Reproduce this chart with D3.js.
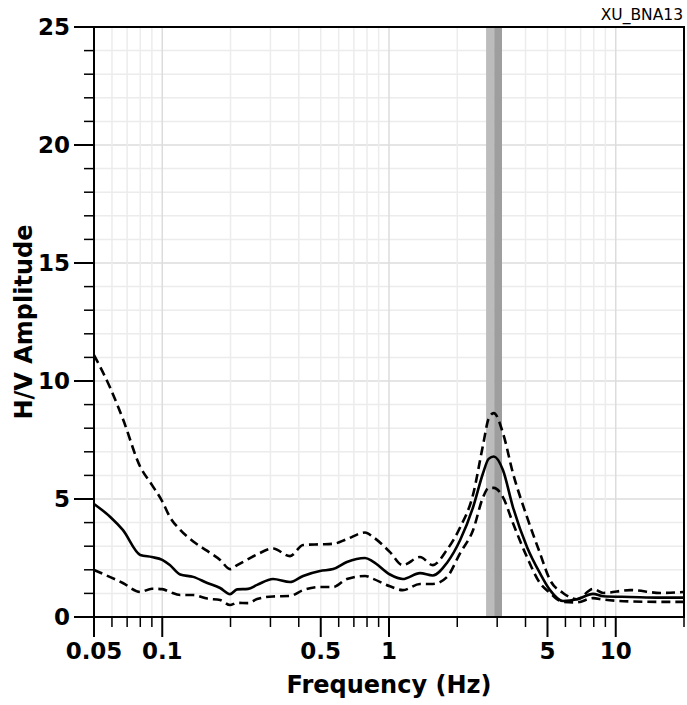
<!DOCTYPE html>
<html>
<head>
<meta charset="utf-8">
<script src="https://cdn.jsdelivr.net/npm/d3@7"></script>
<style>
    body { margin: 0; background: #fff; }
    text { font-family: "DejaVu Sans", sans-serif; }
</style>
</head>
<body>
<div id="chart"></div>
<script>
const stationName = "XU_BNA13";

// frequencies (Hz) shared by the three curves
const freqs = [0.05, 0.059, 0.067, 0.08, 0.09, 0.1, 0.108, 0.12, 0.137, 0.158, 0.18, 0.199, 0.214, 0.239, 0.262,
    0.308, 0.366, 0.418, 0.496, 0.567, 0.652, 0.784, 0.85, 1.01, 1.15, 1.37, 1.56, 1.8, 2.06, 2.35, 2.6, 2.75,
    2.9, 3.18, 3.52, 4.06, 4.63, 5.13, 5.85, 6.75, 7.94, 8.8, 11.6, 15.7, 20];

// mean H/V curve
const hvMean = [4.79, 4.24, 3.69, 2.63, 2.54, 2.42, 2.2, 1.8, 1.7, 1.44, 1.23, 0.97, 1.17, 1.19, 1.36,
    1.61, 1.48, 1.74, 1.95, 2.03, 2.33, 2.5, 2.35, 1.8, 1.61, 1.86, 1.76, 2.29, 3.26, 4.66, 6.1, 6.7,
    6.8, 6.23, 4.66, 2.97, 1.86, 1.14, 0.68, 0.75, 0.98, 0.88, 0.85, 0.82, 0.82];

// mean + std
const hvUpper = [11.1, 9.7, 8.4, 6.36, 5.6, 4.9, 4.24, 3.69, 3.2, 2.8, 2.42, 2.03, 2.2, 2.45, 2.65,
    2.9, 2.58, 3.05, 3.08, 3.1, 3.3, 3.58, 3.39, 2.75, 2.2, 2.54, 2.2, 2.84, 3.8, 5.2, 7.3, 8.4,
    8.64, 7.8, 6.1, 4.24, 2.71, 1.57, 1.02, 0.75, 1.19, 1.02, 1.14, 1.02, 1.06];

// mean - std
const hvLower = [1.99, 1.69, 1.44, 1.06, 1.2, 1.18, 1.06, 0.93, 0.93, 0.78, 0.72, 0.51, 0.6, 0.59, 0.76,
    0.87, 0.89, 1.14, 1.27, 1.27, 1.61, 1.74, 1.62, 1.3, 1.14, 1.4, 1.4, 1.69, 2.71, 3.69, 5.08, 5.47,
    5.47, 5.08, 3.98, 2.54, 1.44, 1.02, 0.64, 0.62, 0.8, 0.74, 0.66, 0.64, 0.64];

// peak frequency band (f0 - std, f0, f0 + std)
const peakBand = [2.68, 2.91, 3.15];

const xMajor = [0.05, 0.1, 0.5, 1, 5, 10];
const xMinor = [0.06, 0.07, 0.08, 0.09, 0.2, 0.3, 0.4, 0.6, 0.7, 0.8, 0.9, 2, 3, 4, 6, 7, 8, 9, 20];
const xDecades = [0.1, 1, 10];
const yMajor = [0, 5, 10, 15, 20, 25];

const width = 687;
const height = 705;
const margin = { top: 27, right: 3, bottom: 88, left: 94 };

const x = d3.scaleLog()
    .domain([0.05, 20])
    .range([margin.left, width - margin.right]);

const y = d3.scaleLinear()
    .domain([0, 25])
    .range([height - margin.bottom, margin.top]);

const svg = d3.select("#chart")
    .append("svg")
    .attr("width", width)
    .attr("height", height);

// grid
const grid = svg.append("g");
d3.range(1, 25).forEach(v => {
    grid.append("line")
        .attr("x1", x.range()[0]).attr("x2", x.range()[1])
        .attr("y1", y(v)).attr("y2", y(v))
        .attr("stroke", v % 5 === 0 ? "#dcdcdc" : "#ececec")
        .attr("stroke-width", 1.5);
});
xMinor.concat([0.5, 5]).forEach(f => {
    grid.append("line")
        .attr("x1", x(f)).attr("x2", x(f))
        .attr("y1", y.range()[0]).attr("y2", y.range()[1])
        .attr("stroke", "#ececec")
        .attr("stroke-width", 1.5);
});
xDecades.forEach(f => {
    grid.append("line")
        .attr("x1", x(f)).attr("x2", x(f))
        .attr("y1", y.range()[0]).attr("y2", y.range()[1])
        .attr("stroke", "#dcdcdc")
        .attr("stroke-width", 1.5);
});

// peak band
svg.append("rect")
    .attr("x", x(peakBand[0]))
    .attr("width", x(peakBand[1]) - x(peakBand[0]))
    .attr("y", y(25))
    .attr("height", y(0) - y(25))
    .attr("fill", "#bcbcbc");
svg.append("rect")
    .attr("x", x(peakBand[1]))
    .attr("width", x(peakBand[2]) - x(peakBand[1]))
    .attr("y", y(25))
    .attr("height", y(0) - y(25))
    .attr("fill", "#9e9e9e");

// curves
const line = d3.line()
    .x(d => x(d[0]))
    .y(d => y(d[1]))
    .curve(d3.curveMonotoneX);

const curves = [
    { values: hvUpper, dash: "9,5" },
    { values: hvLower, dash: "9,5" },
    { values: hvMean, dash: null }
];

curves.forEach(c => {
    svg.append("path")
        .datum(freqs.map((f, i) => [f, c.values[i]]))
        .attr("fill", "none")
        .attr("stroke", "#000")
        .attr("stroke-width", 2.6)
        .attr("stroke-dasharray", c.dash)
        .attr("d", line);
});

// frame
svg.append("rect")
    .attr("x", x.range()[0])
    .attr("y", y.range()[1])
    .attr("width", x.range()[1] - x.range()[0])
    .attr("height", y.range()[0] - y.range()[1])
    .attr("fill", "none")
    .attr("stroke", "#000")
    .attr("stroke-width", 2);

// x axis
const xAxis = svg.append("g")
    .attr("transform", "translate(0," + y(0) + ")");

xMinor.forEach(f => {
    xAxis.append("line")
        .attr("x1", x(f)).attr("x2", x(f))
        .attr("y1", 0).attr("y2", 10)
        .attr("stroke", "#000")
        .attr("stroke-width", 1.5);
});
xMajor.forEach(f => {
    xAxis.append("line")
        .attr("x1", x(f)).attr("x2", x(f))
        .attr("y1", 0).attr("y2", 20)
        .attr("stroke", "#000")
        .attr("stroke-width", 2);
    xAxis.append("text")
        .attr("x", x(f))
        .attr("y", 42)
        .attr("text-anchor", "middle")
        .style("font-size", "23px")
        .style("font-weight", "bold")
        .text(f);
});

// y axis
const yAxis = svg.append("g")
    .attr("transform", "translate(" + x.range()[0] + ",0)");

d3.range(0, 26).forEach(v => {
    const major = v % 5 === 0;
    yAxis.append("line")
        .attr("x1", major ? -20 : -10).attr("x2", 0)
        .attr("y1", y(v)).attr("y2", y(v))
        .attr("stroke", "#000")
        .attr("stroke-width", major ? 2 : 1.5);
});
yMajor.forEach(v => {
    yAxis.append("text")
        .attr("x", -24)
        .attr("y", y(v))
        .attr("dy", "0.36em")
        .attr("text-anchor", "end")
        .style("font-size", "23px")
        .style("font-weight", "bold")
        .text(v);
});

// axis titles
svg.append("text")
    .attr("x", (x.range()[0] + x.range()[1]) / 2)
    .attr("y", 693)
    .attr("text-anchor", "middle")
    .style("font-size", "24px")
    .style("font-weight", "bold")
    .text("Frequency (Hz)");

svg.append("text")
    .attr("transform", "translate(32," + (y.range()[0] + y.range()[1]) / 2 + ") rotate(-90)")
    .attr("text-anchor", "middle")
    .style("font-size", "24px")
    .style("font-weight", "bold")
    .text("H/V Amplitude");

svg.append("text")
    .attr("x", 683)
    .attr("y", 20)
    .attr("text-anchor", "end")
    .style("font-size", "15.5px")
    .text(stationName);
</script>
</body>
</html>
